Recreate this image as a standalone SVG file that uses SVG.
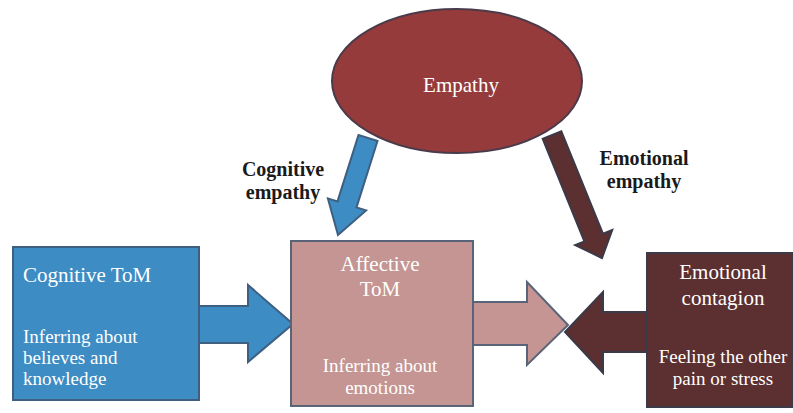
<svg xmlns="http://www.w3.org/2000/svg" width="793" height="413" viewBox="0 0 793 413">
<style>
.t{font-family:"Liberation Serif","Times New Roman",serif;font-size:19px;fill:#ffffff}
.h{font-family:"Liberation Serif","Times New Roman",serif;font-size:21px;fill:#ffffff}
.b{font-family:"Liberation Serif","Times New Roman",serif;font-size:20px;font-weight:bold;fill:#1a1a1a}
.blue{fill:#3d8cc3;stroke:#3f5f80;stroke-width:2}
.pink{fill:#c49592;stroke:#5a6478;stroke-width:2}
.brown{fill:#5c2f30;stroke:#3a3a48;stroke-width:2}
</style>
<rect width="793" height="413" fill="#ffffff"/>
<g id="connectors">
<polygon class="blue" points="377.5,141 356.5,207.4 366.1,210.4 338,235 327.9,198.4 337.5,201.4 358.5,135"/>
<polygon class="brown" points="542.7,138.8 584.4,241.4 575.2,245.1 602,258 612.2,230.1 603,233.8 561.3,131.2"/>
<polygon class="blue" points="199,306 248,306 248,285 293,324 248,362 248,343 199,343"/>
<polygon class="pink" points="473,302 527,302 527,282 568,325 527,365 527,345 473,345"/>
<polygon class="brown" points="648,312 603,312 603,292 565,332 603,373 603,352 648,352"/>
</g>
<g id="empathy">
<ellipse cx="457" cy="81" rx="125" ry="72" fill="#953b3b" stroke="#4a3a4a" stroke-width="2"/>
<text class="h" x="461" y="92" text-anchor="middle">Empathy</text>
</g>
<g id="label-cognitive-empathy">
<text class="b" x="283" y="176" text-anchor="middle">Cognitive</text>
<text class="b" x="283" y="199" text-anchor="middle">empathy</text>
</g>
<g id="label-emotional-empathy">
<text class="b" x="644" y="165" text-anchor="middle">Emotional</text>
<text class="b" x="644" y="188" text-anchor="middle">empathy</text>
</g>
<g id="cognitive-tom">
<rect class="blue" x="13" y="247" width="186" height="153"/>
<text class="h" x="23" y="282">Cognitive ToM</text>
<text class="t" x="23" y="343">Inferring about</text>
<text class="t" x="23" y="364">believes and</text>
<text class="t" x="23" y="385">knowledge</text>
</g>
<g id="affective-tom">
<rect class="pink" x="291" y="241" width="182" height="165"/>
<text class="h" x="380" y="271" text-anchor="middle">Affective</text>
<text class="h" x="380" y="296" text-anchor="middle">ToM</text>
<text class="t" x="380" y="372" text-anchor="middle">Inferring about</text>
<text class="t" x="380" y="394" text-anchor="middle">emotions</text>
</g>
<g id="emotional-contagion">
<rect class="brown" x="647" y="253" width="145" height="154"/>
<text class="h" x="723" y="279" text-anchor="middle">Emotional</text>
<text class="h" x="723" y="305" text-anchor="middle">contagion</text>
<text class="t" x="723" y="363" text-anchor="middle">Feeling the other</text>
<text class="t" x="723" y="385" text-anchor="middle">pain or stress</text>
</g>
</svg>
